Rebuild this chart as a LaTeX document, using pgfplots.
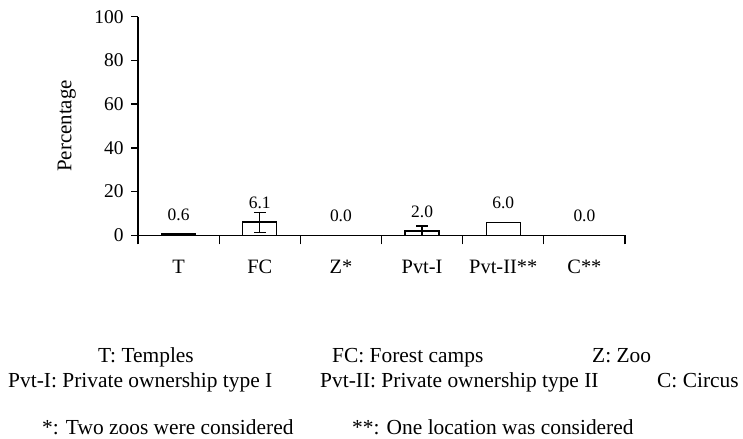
\documentclass[border=0pt]{standalone}
\usepackage{fontspec}
\setmainfont{Liberation Serif}
\usepackage{pgfplots}
\pgfplotsset{compat=1.18}
\begin{document}
\begin{tikzpicture}[x=1bp,y=1bp]
\path[use as bounding box] (0,0) rectangle (743,-439);
\begin{axis}[
  at={(138bp,-235.3bp)}, anchor=south west,
  scale only axis, width=487bp, height=218.6bp,
  xmin=-0.5, xmax=5.5, ymin=0, ymax=100,
  clip=false,
  axis x line=bottom, axis y line=left,
  axis line style={-, line width=1.3bp, black},
  /pgf/number format/assume math mode=true,
  ytick={0,20,...,100},
  xtick={0,...,5},
  xticklabels={T,FC,Z*,Pvt-I,Pvt-II**,C**},
  minor xtick={-0.5,0.5,...,5.5},
  tick align=outside,
  major tick length=7bp, minor tick length=9bp,
  major x tick style={draw=none},
  tick style={black, line width=1.3bp},
  yticklabel style={font=\fontsize{19.5}{21}\selectfont, xshift=-4bp},
  xticklabel style={font=\fontsize{20.5}{22}\selectfont, anchor=base, yshift=-31bp},
  ylabel={Percentage},
  ylabel style={font=\fontsize{21}{24}\selectfont, at={(axis description cs:-0.1464,0.5)}, anchor=center},
]
\addplot[ybar, bar shift=0pt, bar width=34bp, fill=white, draw=black, line width=1.3bp,
  nodes near coords={\pgfmathprintnumber[fixed,fixed zerofill,precision=1,assume math mode=true]{\pgfplotspointmeta}},
  nodes near coords style={font=\fontsize{17.5}{19}\selectfont, anchor=base, yshift=13.5bp, black}]
  coordinates {(0,0.6) (1,6.1) (2,0.0) (3,2.0) (4,6.0) (5,0.0)};
\addplot[draw=none, mark=none,
  error bars/.cd, y dir=both, y explicit,
  error bar style={draw=black, solid, line width=1.3bp},
  error mark options={rotate=90, draw=black, solid, line width=1.3bp, mark size=6bp}]
  coordinates {(1,6.1) += (0,4.3) -= (0,4.7) (3,2.0) += (0,2.2) -= (0,2.0)};
\end{axis}
\begin{scope}[every node/.style={inner sep=0pt, anchor=base west, font=\fontsize{21.5}{24}\selectfont}]
\node at (98,-362.5) {T: Temples};
\node at (332,-362.5) {FC: Forest camps};
\node at (592,-362.5) {Z: Zoo};
\node at (8,-387) {Pvt-I: Private ownership type I};
\node at (320,-387) {Pvt-II: Private ownership type II};
\node at (657,-387) {C: Circus};
\node at (42,-434) {*: Two zoos were considered};
\node at (352,-434) {**: One location was considered};
\end{scope}
\end{tikzpicture}
\end{document}
